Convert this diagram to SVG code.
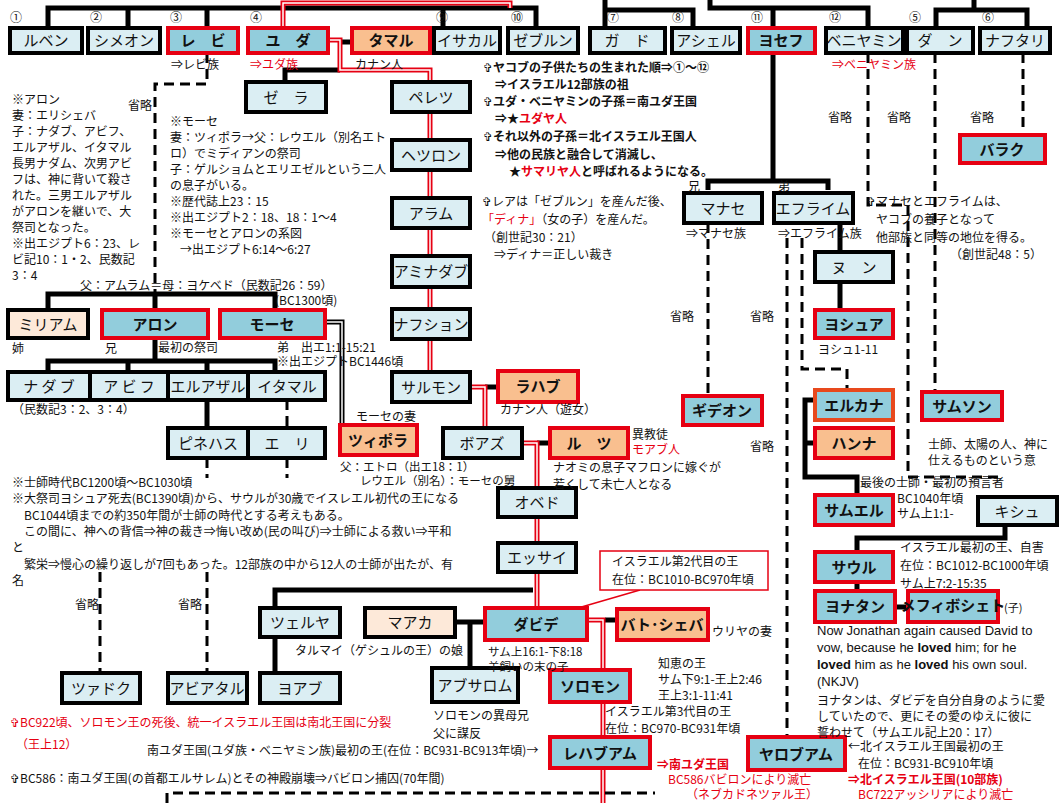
<svg xmlns="http://www.w3.org/2000/svg" width="1064" height="803" viewBox="0 0 1064 803">
<style>
text{font-family:"Noto Sans CJK JP","DejaVu Sans",sans-serif;fill:#111}
.n{fill:#dbeef3;stroke:#000;stroke-width:4}
.d{fill:#92cddc;stroke:#e60012;stroke-width:4}
.o{fill:#f9bf8f;stroke:#e60012;stroke-width:4}
.p{fill:#fde9d9;stroke:#000;stroke-width:4}
.t{font-size:15px;text-anchor:middle}
.b{font-size:15px;text-anchor:middle;font-weight:bold}
.s{font-size:12px}
.m{font-size:12px;font-weight:bold}
.r{fill:#e60012}
.k{fill:none;stroke:#000;stroke-width:5}
.ds{fill:none;stroke:#000;stroke-width:3;stroke-dasharray:10 6}
.rd{fill:none;stroke:#e60012;stroke-width:5}
.w{fill:none;stroke:#fff;stroke-width:1.5}
</style>
<defs>
<path id="r1" d="M283,28 V3 H510 V8"/>
<path id="r2" d="M328,40 H340 V70 H430 V372"/>
<path id="r3" d="M470,387 H485 V428"/>
<path id="r4" d="M522,443 H537 V608"/>
<path id="r5" d="M587,620 H603 V803"/>
<path id="mo" d="M325,322 H342 V425"/>
</defs>
<rect width="1064" height="803" fill="#fff"/>
<g id="connectors">
<path class="k" d="M48,28 V8 H536 V28 M128,8 V28 M207,8 V28 M443,8 V28"/>
<path class="k" d="M605,0 V10 H693 V28 M605,10 V28"/>
<path class="k" d="M710,0 V8 H868 V28 M773,8 V181 M708,190 V181 H828 V190"/>
<path class="k" d="M974,0 V10 M936,28 V10 H1027 V28"/>
<path class="ds" d="M207,53 V84 H155 V294"/>
<path class="k" d="M48,310 V294 H275 V310 M155,294 V310 M155,338 V361 M48,372 V361 H275 V372 M128,361 V372 M207,361 V372 M207,400 V428"/>
<path class="ds" d="M287,400 V428 M207,458 V478 M287,458 V478"/>
<path class="k" d="M340,42 H352 M340,70 H285 V82 M485,387 H498 M537,443 H550"/>
<use href="#mo" class="k"/><use href="#mo" class="w"/>
<use href="#r1" class="rd"/><use href="#r1" class="w"/>
<use href="#r2" class="rd"/><use href="#r2" class="w"/>
<use href="#r3" class="rd"/><use href="#r3" class="w"/>
<use href="#r4" class="rd"/><use href="#r4" class="w"/>
<path class="k" d="M275,608 V590 H533 M275,637 V673 M455,622 H485 M470,622 V668 M605,620 H617"/>
<use href="#r5" class="rd"/><use href="#r5" class="w"/>
<path d="M640,590 L578,608" stroke="#e60012" stroke-width="1.5" fill="none"/>
<path class="ds" d="M100,572 V673 M207,572 V673 M167,803 V793 H655"/>
<path class="ds" d="M708,223 V396 M787,238 V737 M802,238 V369 H847 V390 M868,53 V205 H908 V477 H1002 M935,53 V392 M1023,53 V135"/>
<path class="k" d="M840,223 V310 M815,400 H805 V477 H857 V495 M805,443 H815 M1005,525 V538 H857 V552 M857,582 V591 M895,607 H908"/>
</g>
<g id="n-ruben"><rect class="n" x="10" y="28" width="72" height="25"/><text class="t" x="46" y="46">ルベン</text></g>
<g id="n-simeon"><rect class="n" x="88" y="28" width="72" height="25"/><text class="t" x="124" y="46">シメオン</text></g>
<g id="n-levi"><rect class="d" x="168" y="28" width="70" height="25"/><text class="b" x="203" y="46">レ　ビ</text></g>
<g id="n-judah"><rect class="d" x="248" y="28" width="80" height="25"/><text class="b" x="288" y="46">ユ　ダ</text></g>
<g id="n-tamar"><rect class="o" x="352" y="28" width="78" height="25"/><text class="b" x="391" y="46">タマル</text></g>
<g id="n-issachar"><rect class="n" x="434" y="28" width="66" height="25"/><text class="t" x="467" y="46">イサカル</text></g>
<g id="n-zebulun"><rect class="n" x="508" y="28" width="70" height="25"/><text class="t" x="543" y="46">ゼブルン</text></g>
<g id="n-gad"><rect class="n" x="590" y="28" width="75" height="25"/><text class="t" x="627" y="46">ガ　ド</text></g>
<g id="n-asher"><rect class="n" x="672" y="28" width="68" height="25"/><text class="t" x="706" y="46">アシェル</text></g>
<g id="n-joseph"><rect class="d" x="748" y="28" width="67" height="25"/><text class="b" x="781" y="46">ヨセフ</text></g>
<g id="n-benjamin"><rect class="n" x="826" y="28" width="77" height="25"/><text class="t" x="864" y="46" font-size="13">ベニヤミン</text></g>
<g id="n-dan"><rect class="n" x="907" y="28" width="66" height="25"/><text class="t" x="940" y="46">ダ　ン</text></g>
<g id="n-naphtali"><rect class="n" x="980" y="28" width="70" height="25"/><text class="t" x="1015" y="46">ナフタリ</text></g>
<g class="s">
<text x="10" y="22" class="s">①</text><text x="90" y="22" class="s">②</text><text x="170" y="22" class="s">③</text><text x="250" y="22" class="s">④</text><text x="436" y="22" class="s">⑨</text><text x="511" y="22" class="s">⑩</text><text x="607" y="22" class="s">⑦</text><text x="672" y="22" class="s">⑧</text><text x="751" y="22" class="s">⑪</text><text x="829" y="22" class="s">⑫</text><text x="909" y="22" class="s">⑤</text><text x="982" y="22" class="s">⑥</text>
</g>
<text class="s" x="171" y="69">⇒レビ族</text><text class="s r" x="250" y="69">⇒ユダ族</text><text class="s" x="355" y="69">カナン人</text><text class="s r" x="832" y="69">⇒ベニヤミン族</text>
<g id="n-zerah"><rect class="n" x="246" y="82" width="80" height="30"/><text class="t" x="286" y="103">ゼ　ラ</text></g>
<g id="n-perez"><rect class="n" x="392" y="82" width="78" height="30"/><text class="t" x="431" y="103">ペレツ</text></g>
<g id="n-hezron"><rect class="n" x="392" y="140" width="78" height="30"/><text class="t" x="431" y="161">ヘツロン</text></g>
<g id="n-ram"><rect class="n" x="392" y="198" width="78" height="30"/><text class="t" x="431" y="219">アラム</text></g>
<g id="n-amminadab"><rect class="n" x="392" y="256" width="78" height="31"/><text class="t" x="431" y="277" font-size="14">アミナダブ</text></g>
<g id="n-nahshon"><rect class="n" x="392" y="309" width="78" height="30"/><text class="t" x="431" y="330" font-size="14">ナフション</text></g>
<g id="n-salmon"><rect class="n" x="392" y="372" width="78" height="30"/><text class="t" x="431" y="393">サルモン</text></g>
<g id="n-rahab"><rect class="o" x="498" y="371" width="80" height="31"/><text class="b" x="538" y="392">ラハブ</text></g>
<g id="n-boaz"><rect class="n" x="443" y="428" width="79" height="30"/><text class="t" x="482" y="449">ボアズ</text></g>
<g id="n-ruth"><rect class="o" x="550" y="428" width="78" height="30"/><text class="b" x="589" y="449">ル　ツ</text></g>
<g id="n-obed"><rect class="n" x="498" y="488" width="78" height="29"/><text class="t" x="537" y="508">オベド</text></g>
<g id="n-jesse"><rect class="n" x="498" y="543" width="78" height="29"/><text class="t" x="537" y="563">エッサイ</text></g>
<g id="n-miriam"><rect class="p" x="8" y="310" width="80" height="28"/><text class="t" x="48" y="330">ミリアム</text></g>
<g id="n-aaron"><rect class="d" x="102" y="310" width="106" height="28"/><text class="b" x="155" y="330">アロン</text></g>
<g id="n-moses"><rect class="d" x="220" y="310" width="105" height="28"/><text class="b" x="272" y="330">モーセ</text></g>
<g id="n-nadab"><rect class="n" x="8" y="372" width="82" height="28"/><text class="t" x="49" y="392">ナ ダ ブ</text></g>
<g id="n-abihu"><rect class="n" x="90" y="372" width="78" height="28"/><text class="t" x="129" y="392">ア ビ フ</text></g>
<g id="n-eleazar"><rect class="n" x="168" y="372" width="80" height="28"/><text class="t" x="208" y="392" font-size="14">エルアザル</text></g>
<g id="n-ithamar"><rect class="n" x="248" y="372" width="77" height="28"/><text class="t" x="287" y="392">イタマル</text></g>
<g id="n-phinehas"><rect class="n" x="168" y="428" width="80" height="30"/><text class="t" x="208" y="449">ピネハス</text></g>
<g id="n-eli"><rect class="n" x="248" y="428" width="77" height="30"/><text class="t" x="287" y="449">エ　リ</text></g>
<g id="n-zipporah"><rect class="o" x="340" y="425" width="77" height="30"/><text class="b" x="378" y="446">ツィポラ</text></g>
<g id="n-zeruiah"><rect class="n" x="260" y="608" width="80" height="29"/><text class="t" x="300" y="628">ツェルヤ</text></g>
<g id="n-maacah"><rect class="p" x="365" y="608" width="90" height="29"/><text class="t" x="410" y="628">マアカ</text></g>
<g id="n-david"><rect class="d" x="485" y="608" width="102" height="32"/><text class="b" x="536" y="630">ダビデ</text></g>
<g id="n-bathsheba"><rect class="o" x="617" y="609" width="91" height="31"/><text class="b" x="662" y="630" font-size="14">バト･シェバ</text></g>
<g id="n-zadok"><rect class="n" x="62" y="673" width="78" height="30"/><text class="t" x="101" y="694" font-size="14">ツァドク</text></g>
<g id="n-abiathar"><rect class="n" x="168" y="673" width="79" height="30"/><text class="t" x="207" y="694" font-size="14">アビアタル</text></g>
<g id="n-joab"><rect class="n" x="260" y="673" width="80" height="30"/><text class="t" x="300" y="694">ヨアブ</text></g>
<g id="n-absalom"><rect class="n" x="432" y="668" width="86" height="34"/><text class="t" x="475" y="691">アブサロム</text></g>
<g id="n-solomon"><rect class="d" x="550" y="670" width="80" height="32"/><text class="b" x="590" y="692">ソロモン</text></g>
<g id="n-rehoboam"><rect class="d" x="550" y="737" width="100" height="31"/><text class="b" x="600" y="759">レハブアム</text></g>
<g id="n-jeroboam"><rect class="d" x="748" y="737" width="97" height="33"/><text class="b" x="796" y="760">ヤロブアム</text></g>
<g id="n-callout"><rect x="600" y="551" width="168" height="39" fill="#fff" stroke="#e60012" stroke-width="1.5"/><text class="s" x="612" y="566">イスラエル第2代目の王</text><text class="s" x="612" y="584">在位：BC1010-BC970年頃</text></g>
<g id="n-manasseh"><rect class="n" x="684" y="193" width="78" height="30"/><text class="t" x="723" y="214">マナセ</text></g>
<g id="n-ephraim"><rect class="n" x="774" y="193" width="79" height="30"/><text class="t" x="813" y="214">エフライム</text></g>
<g id="n-nun"><rect class="n" x="815" y="252" width="78" height="30"/><text class="t" x="854" y="273">ヌ　ン</text></g>
<g id="n-joshua"><rect class="d" x="815" y="310" width="78" height="28"/><text class="b" x="854" y="330">ヨシュア</text></g>
<g id="n-gideon"><rect class="d" x="683" y="396" width="79" height="29"/><text class="b" x="722" y="416">ギデオン</text></g>
<g id="n-elkanah"><rect class="d" x="815" y="390" width="78" height="30" style="stroke:#e8491d"/><text class="b" x="854" y="411">エルカナ</text></g>
<g id="n-hannah"><rect class="o" x="815" y="428" width="78" height="30"/><text class="b" x="854" y="449">ハンナ</text></g>
<g id="n-samson"><rect class="d" x="922" y="392" width="80" height="28"/><text class="b" x="962" y="412">サムソン</text></g>
<g id="n-barak"><rect class="d" x="960" y="135" width="85" height="28"/><text class="b" x="1002" y="155">バラク</text></g>
<g id="n-samuel"><rect class="d" x="815" y="495" width="78" height="30"/><text class="b" x="854" y="516">サムエル</text></g>
<g id="n-kish"><rect class="n" x="978" y="497" width="79" height="28"/><text class="t" x="1017" y="517">キシュ</text></g>
<g id="n-saul"><rect class="d" x="815" y="552" width="78" height="30"/><text class="b" x="854" y="573">サウル</text></g>
<g id="n-jonathan"><rect class="d" x="815" y="591" width="80" height="31"/><text class="b" x="855" y="612">ヨナタン</text></g>
<g id="n-mephibosheth"><rect class="d" x="908" y="591" width="90" height="31"/><text class="b" x="953" y="611" font-size="12.5">メフィボシェト</text></g>
<g id="notes">
<text class="m" x="483" y="72">✞ヤコブの子供たちの生まれた順⇒①～⑫</text>
<text class="m" x="495" y="89">⇒イスラエル12部族の祖</text>
<text class="m" x="483" y="106">✞ユダ・ベニヤミンの子孫＝南ユダ王国</text>
<text class="m" x="495" y="123">⇒★<tspan class="r">ユダヤ人</tspan></text>
<text class="m" x="483" y="141">✞それ以外の子孫＝北イスラエル王国人</text>
<text class="m" x="495" y="159">⇒他の民族と融合して消滅し、</text>
<text class="m" x="509" y="176">★<tspan class="r">サマリヤ人</tspan>と呼ばれるようになる。</text>
<text class="s" x="482" y="206">✞レアは「ゼブルン」を産んだ後、</text>
<text class="s" x="482" y="224"><tspan class="r">「ディナ」</tspan>（女の子）を産んだ。</text>
<text class="s" x="484" y="242">（創世記30：21）</text>
<text class="s" x="494" y="259">⇒ディナ＝正しい裁き</text>
<text class="s" x="688" y="191" font-size="11">兄</text><text class="s" x="778" y="191" font-size="11">弟</text>
<text class="s" x="686" y="238">⇒マナセ族</text><text class="s" x="778" y="238">⇒エフライム族</text>
<text class="s" x="866" y="206">✞マナセとエフライムは、</text>
<text class="s" x="876" y="224">ヤコブの養子となって</text>
<text class="s" x="876" y="242">他部族と同等の地位を得る。</text>
<text class="s" x="950" y="259">（創世記48：5）</text>
<text class="s" x="818" y="354">ヨシュ1-11</text>
<text class="s" x="828" y="122">省略</text><text class="s" x="887" y="122">省略</text><text class="s" x="970" y="122">省略</text>
<text class="s" x="670" y="321">省略</text><text class="s" x="750" y="321">省略</text><text class="s" x="750" y="451">省略</text>
<text class="s" x="128" y="110">省略</text>
<text class="s" x="75" y="609">省略</text><text class="s" x="178" y="609">省略</text>
<g class="s">
<text x="12" y="104">※アロン</text><text x="12" y="120">妻：エリシェバ</text><text x="12" y="136">子：ナダブ、アビフ、</text><text x="12" y="152">エルアザル、イタマル</text><text x="12" y="168">長男ナダム、次男アビ</text><text x="12" y="184">フは、神に背いて殺さ</text><text x="12" y="200">れた。三男エルアザル</text><text x="12" y="216">がアロンを継いで、大</text><text x="12" y="232">祭司となった。</text><text x="12" y="248">※出エジプト6：23、レ</text><text x="12" y="264">ビ記10：1・2、民数記</text><text x="12" y="280">3：4</text>
<text x="170" y="126">※モーセ</text><text x="170" y="142">妻：ツィポラ→父：レウエル（別名エト</text><text x="170" y="158">ロ）でミディアンの祭司</text><text x="170" y="174">子：ゲルショムとエリエゼルという二人</text><text x="170" y="190">の息子がいる。</text><text x="170" y="206">※歴代誌上23：15</text><text x="170" y="222">※出エジプト2：18、18：1～4</text><text x="170" y="238">※モーセとアロンの系図</text><text x="180" y="254">→出エジプト6:14～6:27</text>
<text x="80" y="290">父：アムラム＝母：ヨケベド（民数記26：59）</text><text x="275" y="305">(BC1300頃)</text>
<text x="12" y="353">姉</text><text x="105" y="353">兄</text><text x="158" y="352">最初の祭司</text><text x="277" y="352">弟　出エ1:1-15:21</text><text x="277" y="366">※出エジプトBC1446頃</text>
<text x="12" y="414">（民数記3：2、3：4）</text>
<text x="356" y="421">モーセの妻</text>
<text x="340" y="471" font-size="11.5">父：エトロ（出エ18：1）</text><text x="360" y="485" font-size="11.5">レウエル（別名）：モーセの舅</text>
<text x="500" y="414">カナン人（遊女）</text>
<text x="632" y="439">異教徒</text><text x="632" y="454" class="r">モアブ人</text>
<text x="553" y="472">ナオミの息子マフロンに嫁ぐが</text><text x="553" y="489">若くして未亡人となる</text>
<text x="12" y="487">※士師時代BC1200頃～BC1030頃</text>
<text x="12" y="503">※大祭司ヨシュア死去(BC1390頃)から、サウルが30歳でイスレエル初代の王になる</text>
<text x="24" y="520">BC1044頃までの約350年間が士師の時代とする考えもある。</text>
<text x="24" y="536">この間に、神への背信⇒神の裁き⇒悔い改め(民の叫び)⇒士師による救い⇒平和</text>
<text x="12" y="552">と</text>
<text x="24" y="569">繁栄⇒慢心の繰り返しが7回もあった。12部族の中から12人の士師が出たが、有</text>
<text x="12" y="585">名</text>
<text x="928" y="449">士師、太陽の人、神に</text><text x="928" y="465">仕えるものという意</text>
<text x="860" y="487">最後の士師・最初の預言者</text>
<text x="897" y="503">BC1040年頃</text><text x="897" y="518">サム上1:1-</text>
<text x="900" y="552">イスラエル最初の王、自害</text><text x="900" y="570">在位：BC1012-BC1000年頃</text><text x="900" y="588">サム上7:2-15:35</text>
<text x="1004" y="612" font-size="11">(子)</text>
<text x="295" y="655">タルマイ（ゲシュルの王）の娘</text>
<text x="488" y="656" font-size="11.5">サム上16:1-下8:18</text><text x="488" y="671" font-size="11.5">羊飼いの末の子</text>
<text x="712" y="636">ウリヤの妻</text>
<text x="658" y="668">知恵の王</text><text x="658" y="684">サム下9:1-王上2:46</text><text x="658" y="700">王上3:1-11:41</text>
<text x="605" y="716">イスラエル第3代目の王</text><text x="605" y="733">在位：BC970-BC931年頃</text>
<text x="433" y="720">ソロモンの異母兄</text><text x="433" y="738">父に謀反</text>
<text x="10" y="727" class="r">✞BC922頃、ソロモン王の死後、統一イスラエル王国は南北王国に分裂</text>
<text x="16" y="749" class="r">（王上12）</text>
<text x="147" y="755">南ユダ王国(ユダ族・ベニヤミン族)最初の王(在位：BC931-BC913年頃)→</text>
<text x="10" y="783">✞BC586：南ユダ王国(の首都エルサレム)とその神殿崩壊⇒バビロン捕囚(70年間)</text>
<text x="657" y="769" class="r" font-weight="bold">⇒南ユダ王国</text>
<text x="668" y="784" class="r">BC586バビロンにより滅亡</text><text x="686" y="799" class="r">（ネブカドネツァル王）</text>
<text x="848" y="751">←北イスラエル王国最初の王</text><text x="858" y="768">在位：BC931-BC910年頃</text>
<text x="848" y="784" class="r" font-weight="bold">⇒北イスラエル王国(10部族)</text>
<text x="858" y="799" class="r">BC722アッシリアにより滅亡</text>
</g>
<g font-size="13">
<text x="817" y="635" style="font-family:'Liberation Sans',sans-serif">Now Jonathan again caused David to</text>
<text x="817" y="652" style="font-family:'Liberation Sans',sans-serif">vow, because he <tspan font-weight="bold">loved</tspan> him; for he</text>
<text x="817" y="669" style="font-family:'Liberation Sans',sans-serif"><tspan font-weight="bold">loved</tspan> him as he <tspan font-weight="bold">loved</tspan> his own soul.</text>
<text x="817" y="686" style="font-family:'Liberation Sans',sans-serif">(NKJV)</text>
</g>
<text class="s" x="817" y="705">ヨナタンは、ダビデを自分自身のように愛</text>
<text class="s" x="817" y="721">していたので、更にその愛のゆえに彼に</text>
<text class="s" x="817" y="737">誓わせて（サムエル記上20：17）</text>
</g>
</svg>
